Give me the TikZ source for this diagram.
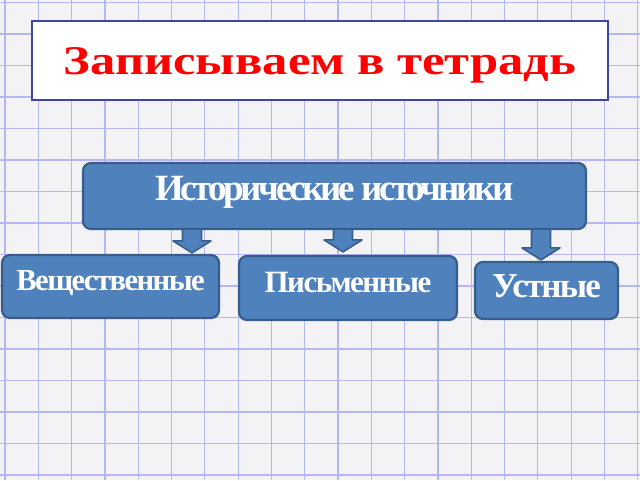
\documentclass[tikz,border=0pt]{standalone}
\usepackage{fontspec}
\setmainfont{Liberation Serif}
\newfontfamily\boxfont[LetterSpace=-5]{Liberation Serif}
\newfontfamily\narrowfont[LetterSpace=-9]{Liberation Serif}
\newfontfamily\titlefont[FakeStretch=1.24]{Liberation Serif}
\usetikzlibrary{calc,positioning}
\definecolor{Paper}{HTML}{F3F3F6}
\definecolor{GridInk}{HTML}{B6B6F0}
\definecolor{BoxFill}{HTML}{4F81BD}
\definecolor{BoxEdge}{HTML}{385D8A}
\definecolor{Frame}{HTML}{3F47A6}
\definecolor{Headline}{HTML}{FF0000}
\tikzset{gridline/.style={draw=GridInk,line width=0.6pt},
  titlebox/.style={draw=Frame,fill=white,line width=1pt,inner sep=0pt,
    text depth=0pt,font=\titlefont\bfseries\fontsize{20.4}{24}\selectfont,text=Headline},
  srcbox/.style={draw=BoxEdge,fill=BoxFill,line width=1.1pt,rounded corners=4pt,
    inner sep=0pt,text=white,text height=0.66em,text depth=0.22em},
  blockarrow/.style={draw=BoxEdge,fill=BoxFill,line width=0.8pt,line join=round}}
% block arrow from #1 (top of shaft) to #2 (tip)
\newcommand{\blkarrow}[2]{%
  \draw[blockarrow] ($(#1)+(-9.5,0)$) -- ($(#2)+(-9.5,-12)$) -- ($(#2)+(-19,-12)$)
    -- (#2) -- ($(#2)+(19,-12)$) -- ($(#2)+(9.5,-12)$) -- ($(#1)+(9.5,0)$);}

\begin{document}
\begin{tikzpicture}[x=0.5pt,y=-0.5pt]
  \useasboundingbox[fill=Paper] (0,0) rectangle (640,480);
  \foreach \i in {0,...,19} \draw[gridline] ({5+33.3*\i},0) -- ({5+33.3*\i},480);
  \foreach \j in {0,...,15} \draw[gridline] (0,{2.5+31.5*\j}) -- (640,{2.5+31.5*\j});

  \node[titlebox,minimum width=288pt,minimum height=39.5pt] (title) at (320,60.5)
    {Записываем в тетрадь};

  \node[srcbox,minimum width=251.5pt,minimum height=33pt,
    font=\narrowfont\bfseries\fontsize{18.5}{22}\selectfont] (main) at (334.5,196)
    {Исторические источники};
  \node[srcbox,minimum width=108.5pt,minimum height=31.5pt,
    font=\boxfont\bfseries\fontsize{15.3}{19}\selectfont] (vesh) at (110.5,286.5) {Вещественные};
  \node[srcbox,minimum width=109pt,minimum height=32pt,
    font=\boxfont\bfseries\fontsize{15.5}{19}\selectfont] (pism) at (348,288) {Письменные};
  \node[srcbox,minimum width=71.5pt,minimum height=28.5pt,text depth=0pt,
    font=\boxfont\bfseries\fontsize{17.5}{21}\selectfont] (ustn) at (546.5,290.5) {Устные};

  \coordinate (s1) at (192,0 |- main.south);
  \coordinate (s2) at (343,0 |- main.south);
  \coordinate (s3) at (541,0 |- main.south);
  \coordinate (t1) at ($(192,0 |- vesh.north)+(0,-1)$);
  \coordinate (t2) at ($(343,0 |- pism.north)+(0,-3)$);
  \coordinate (t3) at ($(541,0 |- ustn.north)+(0,-1)$);
  \blkarrow{s1}{t1}
  \blkarrow{s2}{t2}
  \blkarrow{s3}{t3}
\end{tikzpicture}
\end{document}
